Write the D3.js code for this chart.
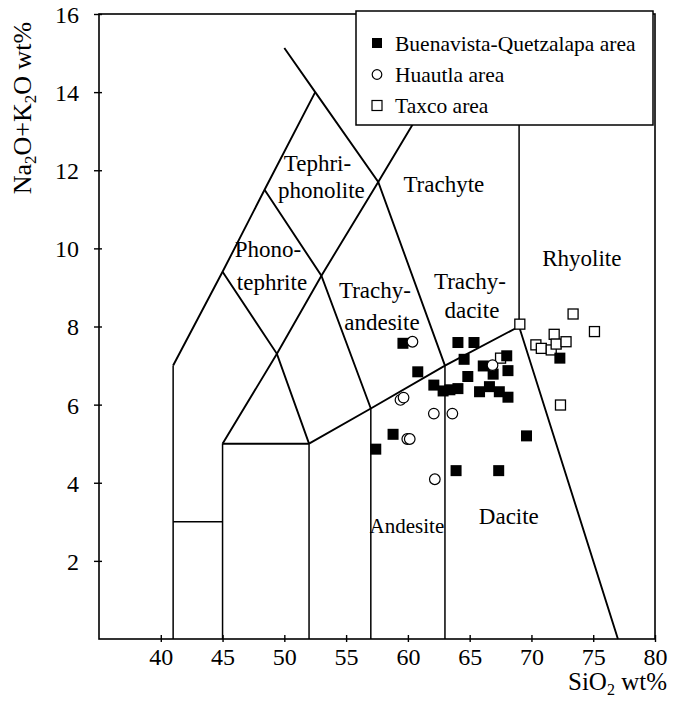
<!DOCTYPE html>
<html>
<head>
<meta charset="utf-8">
<script src="https://cdn.jsdelivr.net/npm/d3@7"></script>
<style>
  body { margin: 0; background: #fff; }
  svg { display: block; font-family: "Liberation Serif", "Times New Roman", serif; }
</style>
</head>
<body>
<svg id="chart" width="673" height="702"></svg>
<script>
// TAS diagram (SiO2 vs Na2O+K2O)

// Buenavista-Quetzalapa area (filled squares)
const bqSiO2 = [59.6, 60.8, 62.1, 62.85, 63.4, 64.05, 58.8, 57.4, 64.05, 65.35, 64.55, 66.1,
                68.0, 68.1, 66.9, 64.85, 65.8, 66.6, 67.4, 68.1, 69.6, 63.9, 67.35, 72.3];
const bqAlk  = [7.57, 6.84, 6.50, 6.35, 6.38, 6.41, 5.24, 4.86, 7.59, 7.59, 7.16, 6.99,
                7.25, 6.87, 6.78, 6.72, 6.33, 6.46, 6.33, 6.19, 5.2, 4.31, 4.31, 7.19];

// Huautla area (open circles)
const huSiO2 = [60.37, 59.4, 59.65, 62.1, 63.6, 59.95, 60.15, 62.18, 66.85];
const huAlk  = [7.61, 6.12, 6.18, 5.77, 5.77, 5.12, 5.12, 4.09, 7.01];

// Taxco area (open squares)
const txSiO2 = [69.06, 73.37, 71.84, 70.36, 70.8, 71.6, 72.0, 72.8, 72.35, 75.1, 67.5];
const txAlk  = [8.06, 8.32, 7.8, 7.53, 7.44, 7.4, 7.55, 7.61, 5.99, 7.87, 7.19];

// field boundaries, [SiO2, alkali] vertices; thin = vertical dividers
const boundaries = [
    [[50, 15.13], [52.5, 14], [57.6, 11.7], [63, 7]],
    [[41, 7], [45, 9.4], [48.4, 11.5], [52.5, 14]],
    [[45, 5], [49.4, 7.3], [53, 9.3], [57.6, 11.7], [61, 13.5]],
    [[52, 5], [57, 5.9], [63, 7], [69, 8], [77, 0]],
    [[52, 5], [49.4, 7.3], [45, 9.4]],
    [[57, 5.9], [53, 9.3], [48.4, 11.5]],
    [[45, 5], [52, 5]]
];
const dividers = [
    [[41, 0], [41, 7]],
    [[41, 3], [45, 3]],
    [[45, 0], [45, 5]],
    [[52, 0], [52, 5]],
    [[57, 0], [57, 5.9]],
    [[63, 0], [63, 7]],
    [[69, 8], [69, 14]]
];

// field names: text, SiO2, alkali (centre x, baseline)
const fieldNames = [
    ["Tephri-", 52.68, 11.98], ["phonolite", 53.0, 11.29],
    ["Phono-", 48.67, 9.78], ["tephrite", 49.0, 8.94],
    ["Trachyte", 62.91, 11.44],
    ["Trachy-", 57.33, 8.73], ["andesite", 57.9, 7.91],
    ["Trachy-", 65.02, 8.96], ["dacite", 65.18, 8.22],
    ["Rhyolite", 74.08, 9.55],
    ["Andesite", 59.92, 2.71],
    ["Dacite", 68.17, 2.94]
];

const xTicks = [40, 45, 50, 55, 60, 65, 70, 75, 80];
const yTicks = [2, 4, 6, 8, 10, 12, 14, 16];
const legendNames = ["Buenavista-Quetzalapa area", "Huautla area", "Taxco area"];

let svg = d3.select("#chart");

let x = d3.scaleLinear().domain([35, 80]).range([99, 655]);
let y = d3.scaleLinear().domain([0, 16]).range([639, 14]);

let line = d3.line()
    .x(function(d) { return x(d[0]); })
    .y(function(d) { return y(d[1]); });

// boundaries
svg.append("g")
    .selectAll("path")
    .data(boundaries)
    .enter().append("path")
    .attr("d", line)
    .attr("fill", "none")
    .attr("stroke", "#000")
    .attr("stroke-width", 1.9);

svg.append("g")
    .selectAll("path")
    .data(dividers)
    .enter().append("path")
    .attr("d", line)
    .attr("fill", "none")
    .attr("stroke", "#000")
    .attr("stroke-width", 1.5);

// frame
svg.append("rect")
    .attr("x", x(35)).attr("y", y(16))
    .attr("width", x(80) - x(35)).attr("height", y(0) - y(16))
    .attr("fill", "none")
    .attr("stroke", "#000")
    .attr("stroke-width", 1.6);

// axes
let xAxis = svg.append("g")
    .attr("transform", "translate(0," + y(0) + ")")
    .call(d3.axisBottom(x).tickValues(xTicks).tickSizeOuter(0));
xAxis.select(".domain").remove();
xAxis.selectAll(".tick line").attr("y1", -4).attr("y2", 3).attr("stroke-width", 1.4);
xAxis.selectAll(".tick text")
    .attr("y", 26).attr("dy", 0)
    .attr("font-size", 24)
    .attr("font-family", "Liberation Serif")
    .attr("fill", "#000");

let yAxis = svg.append("g")
    .attr("transform", "translate(" + x(35) + ",0)")
    .call(d3.axisLeft(y).tickValues(yTicks).tickSizeOuter(0));
yAxis.select(".domain").remove();
yAxis.selectAll(".tick line").attr("x1", -5).attr("x2", 3).attr("stroke-width", 1.4);
yAxis.selectAll(".tick text")
    .attr("x", -20).attr("dy", "0.35em")
    .attr("font-size", 24)
    .attr("font-family", "Liberation Serif")
    .attr("fill", "#000");

// field names
svg.append("g")
    .selectAll("text")
    .data(fieldNames)
    .enter().append("text")
    .attr("x", function(d) { return x(d[1]); })
    .attr("y", function(d) { return y(d[2]); })
    .attr("text-anchor", "middle")
    .attr("font-size", function(d) { return d[0] === "Andesite" ? 21 : 23; })
    .text(function(d) { return d[0]; });

// data points
let tx = d3.range(txSiO2.length).map(function(i) { return [txSiO2[i], txAlk[i]]; });
let bq = d3.range(bqSiO2.length).map(function(i) { return [bqSiO2[i], bqAlk[i]]; });
let hu = d3.range(huSiO2.length).map(function(i) { return [huSiO2[i], huAlk[i]]; });

svg.append("g")
    .selectAll("rect")
    .data(tx)
    .enter().append("rect")
    .attr("x", function(d) { return x(d[0]) - 5; })
    .attr("y", function(d) { return y(d[1]) - 5; })
    .attr("width", 10).attr("height", 10)
    .attr("fill", "#fff")
    .attr("stroke", "#000")
    .attr("stroke-width", 1.3);

svg.append("g")
    .selectAll("rect")
    .data(bq)
    .enter().append("rect")
    .attr("x", function(d) { return x(d[0]) - 5.5; })
    .attr("y", function(d) { return y(d[1]) - 5.5; })
    .attr("width", 11).attr("height", 11)
    .attr("fill", "#000");

svg.append("g")
    .selectAll("circle")
    .data(hu)
    .enter().append("circle")
    .attr("cx", function(d) { return x(d[0]); })
    .attr("cy", function(d) { return y(d[1]); })
    .attr("r", 5.3)
    .attr("fill", "#fff")
    .attr("stroke", "#000")
    .attr("stroke-width", 1.2);

// legend
let legend = svg.append("g");
legend.append("rect")
    .attr("x", 356).attr("y", 11)
    .attr("width", 297).attr("height", 114)
    .attr("fill", "#fff")
    .attr("stroke", "#000")
    .attr("stroke-width", 1.5);

legendNames.forEach(function(name, i) {
    let by = 51 + i * 31;
    if (i === 0) {
        legend.append("rect").attr("x", 372).attr("y", by - 13).attr("width", 10).attr("height", 10)
            .attr("fill", "#000");
    } else if (i === 1) {
        legend.append("circle").attr("cx", 377).attr("cy", by - 7.5).attr("r", 4.8)
            .attr("fill", "#fff").attr("stroke", "#000").attr("stroke-width", 1.2);
    } else {
        legend.append("rect").attr("x", 372).attr("y", by - 12.5).attr("width", 10).attr("height", 10)
            .attr("fill", "#fff").attr("stroke", "#000").attr("stroke-width", 1.2);
    }
    legend.append("text")
        .attr("x", 395).attr("y", by)
        .attr("font-size", 21.5)
        .text(name);
});

// axis titles
let xt = svg.append("text")
    .attr("x", 667).attr("y", 690)
    .attr("text-anchor", "end")
    .attr("font-size", 25);
xt.append("tspan").text("SiO");
xt.append("tspan").attr("font-size", 16).attr("dy", 5).text("2");
xt.append("tspan").attr("dy", -5).text(" wt%");

let yt = svg.append("text")
    .attr("transform", "translate(31,108) rotate(-90)")
    .attr("text-anchor", "middle")
    .attr("font-size", 26);
yt.append("tspan").text("Na");
yt.append("tspan").attr("font-size", 17).attr("dy", 5).text("2");
yt.append("tspan").attr("dy", -5).text("O+K");
yt.append("tspan").attr("font-size", 17).attr("dy", 5).text("2");
yt.append("tspan").attr("dy", -5).text("O wt%");
</script>
</body>
</html>
